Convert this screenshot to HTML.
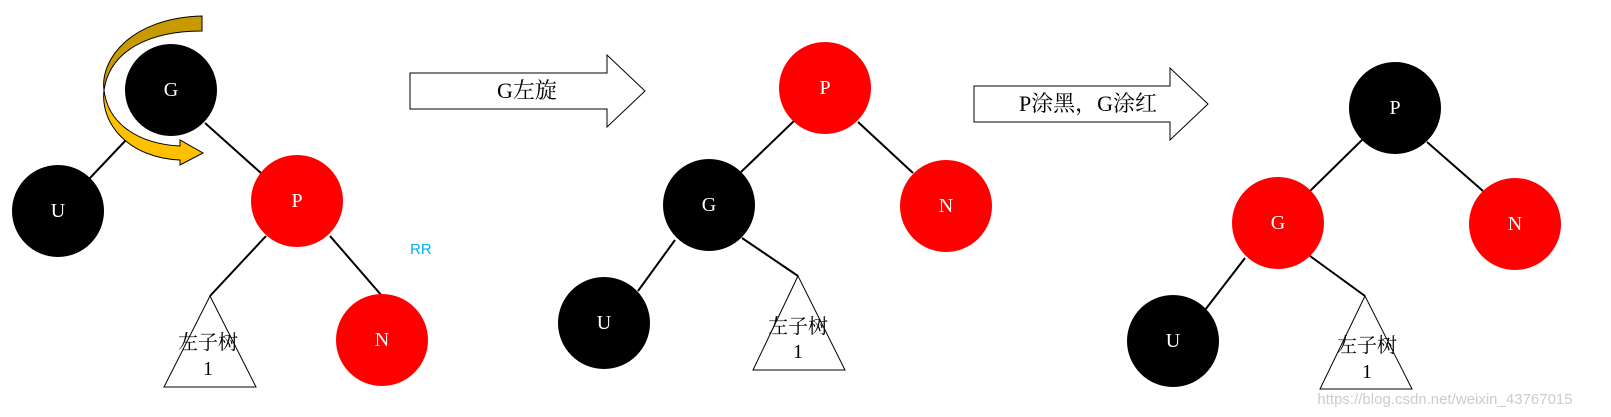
<!DOCTYPE html>
<html><head><meta charset="utf-8"><style>html,body{margin:0;padding:0;background:#fff}svg{display:block}</style></head>
<body>
<svg width="1611" height="417" viewBox="0 0 1611 417" xmlns="http://www.w3.org/2000/svg" font-family="'Liberation Serif','Noto Serif CJK SC',serif">
<g stroke="#000" stroke-width="2" fill="none">
<line x1="90" y1="178" x2="126" y2="140"/>
<line x1="205" y1="123" x2="262" y2="174"/>
<line x1="266" y1="236" x2="210" y2="296"/>
<line x1="330" y1="236" x2="382" y2="296"/>
<line x1="795" y1="120" x2="741" y2="172"/>
<line x1="858" y1="122" x2="913" y2="173"/>
<line x1="675" y1="240" x2="638" y2="291"/>
<line x1="742" y1="238" x2="798" y2="276"/>
<line x1="1362" y1="140" x2="1310" y2="191"/>
<line x1="1427" y1="142" x2="1483" y2="191"/>
<line x1="1245" y1="258" x2="1205" y2="310"/>
<line x1="1310" y1="256" x2="1365" y2="296"/>
</g>
<g stroke="#000" stroke-width="1" fill="#fff">
<polygon points="210,296 164,387 256,387"/>
<polygon points="798,276 753,370 845,370"/>
<polygon points="1365,296 1320,389 1412,389"/>
</g>
<circle cx="171" cy="90" r="46" fill="#000"/>
<circle cx="58" cy="211" r="46" fill="#000"/>
<circle cx="297" cy="201" r="46" fill="#f00"/>
<circle cx="382" cy="340" r="46" fill="#f00"/>
<circle cx="825" cy="88" r="46" fill="#f00"/>
<circle cx="709" cy="205" r="46" fill="#000"/>
<circle cx="946" cy="206" r="46" fill="#f00"/>
<circle cx="604" cy="323" r="46" fill="#000"/>
<circle cx="1395" cy="108" r="46" fill="#000"/>
<circle cx="1278" cy="223" r="46" fill="#f00"/>
<circle cx="1515" cy="224" r="46" fill="#f00"/>
<circle cx="1173" cy="341" r="46" fill="#000"/>
<!-- curved arrow -->
<path d="M202,16 L202,31 C150,31 110,50 104,90 C100,60 130,18 202,16 Z" fill="#c89a00" stroke="#000" stroke-width="1"/>
<path d="M104,90 C108,125 140,144 180,146 L180,140 L203,153 L180,165 L180,160 C130,158 100,125 104,90 Z" fill="#ffc000" stroke="#000" stroke-width="1"/>
<g font-size="20" text-anchor="middle" dominant-baseline="central">
<text x="171" y="90" fill="#fff">G</text>
<text x="58" y="211" fill="#fff">U</text>
<text x="297" y="201" fill="#fff">P</text>
<text x="382" y="340" fill="#fff">N</text>
<text x="825" y="88" fill="#fff">P</text>
<text x="709" y="205" fill="#fff">G</text>
<text x="946" y="206" fill="#fff">N</text>
<text x="604" y="323" fill="#fff">U</text>
<text x="1395" y="108" fill="#fff">P</text>
<text x="1278" y="223" fill="#fff">G</text>
<text x="1515" y="224" fill="#fff">N</text>
<text x="1173" y="341" fill="#fff">U</text>
<text x="208" y="343" fill="#000">左子树</text>
<text x="208" y="369" fill="#000">1</text>
<text x="798" y="327" fill="#000">左子树</text>
<text x="798" y="352" fill="#000">1</text>
<text x="1367" y="346" fill="#000">左子树</text>
<text x="1367" y="372" fill="#000">1</text>
</g>
<text x="410" y="254" font-size="15" fill="#00b0f0" font-family="'Liberation Sans',sans-serif">RR</text>
<polygon points="410,73 607,73 607,55 645,91 607,127 607,109 410,109" fill="#fff" stroke="#000" stroke-width="1"/>
<text x="527" y="98" font-size="22" text-anchor="middle">G左旋</text>
<polygon points="974,86 1170,86 1170,68 1208,104 1170,140 1170,122 974,122" fill="#fff" stroke="#000" stroke-width="1"/>
<text x="1088" y="111" font-size="22" text-anchor="middle">P涂黑，G涂红</text>
<text x="1445" y="404" font-size="15" fill="#ccc" text-anchor="middle" font-family="'Liberation Sans',sans-serif">https://blog.csdn.net/weixin_43767015</text>
</svg>
</body></html>
